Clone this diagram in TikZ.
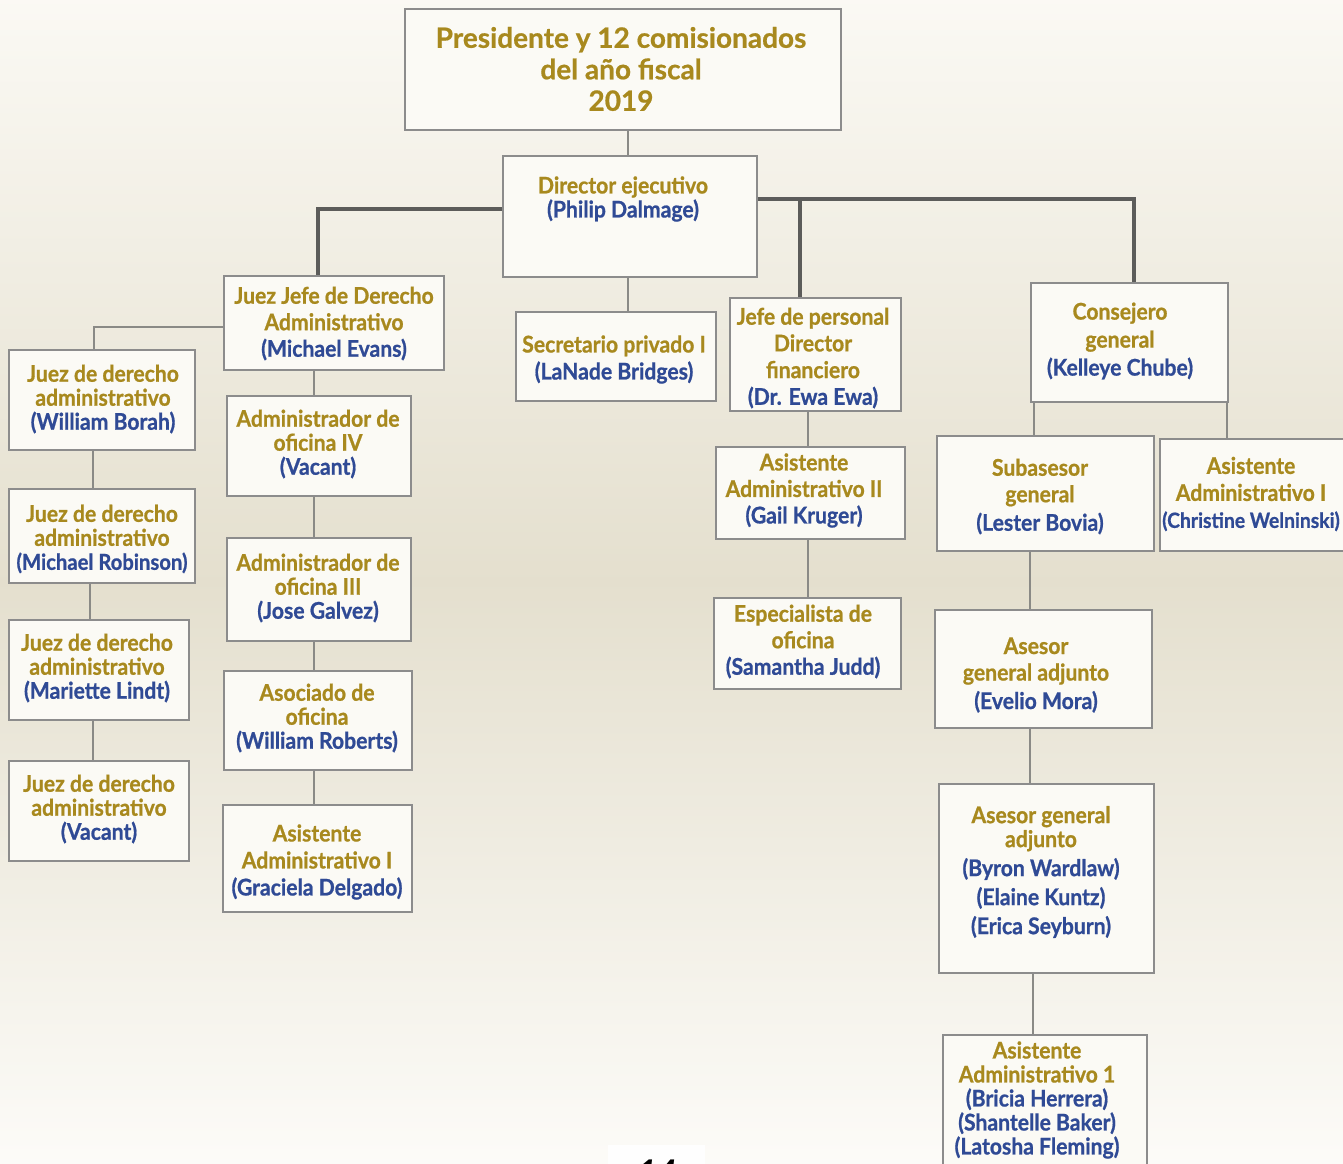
\documentclass[tikz,border=0pt]{standalone}
\usepackage{fontspec}
\newfontfamily\boxfont{Lato}[FakeStretch=0.92,BoldFeatures={FakeBold=0.8}]
\newfontfamily\titlefont{Lato}[BoldFeatures={FakeBold=0.6}]
\definecolor{gold}{HTML}{A8891E}
\definecolor{blu}{HTML}{2F4A95}
\definecolor{bordergray}{HTML}{8C8C8C}
\definecolor{boxfill}{HTML}{FBFAF5}
\definecolor{thinline}{HTML}{8A8A86}
\definecolor{thickline}{HTML}{5C5C5A}
\newcommand\gd[1]{\textcolor{gold}{#1}}
\newcommand\bl[1]{\textcolor{blu}{#1}}
\newcommand\orgbox[5]{\node[orgb,minimum width={(#4-#2)*1pt},minimum height={(#5-#3)*1pt}] (#1) at ({(#2+#4)/2},{(#3+#5)/2}) {};}
\newcommand\vconn[3]{\draw[conn] ([xshift=#3]#2.north |- #1.south) -- ([xshift=#3]#2.north);}
\tikzset{
  orgb/.style={draw=bordergray,line width=1.8pt,fill=boxfill,inner sep=0pt,rectangle},
  tx/.style={align=center,inner sep=0pt,font=\boxfont\bfseries\fontsize{23}{#1}\selectfont},
  conn/.style={draw=thinline,line width=1.5pt},
  thickconn/.style={draw=thickline,line width=3.2pt},
}
\begin{document}
\begin{tikzpicture}[x=1pt,y=-1pt]
\useasboundingbox (0,0) rectangle (1343,1163);
\begin{scope}
\clip (0,0) rectangle (1343,1163);
\shade[top color=white!50!gold!10, bottom color=white!60!gold!8, middle color=gray!12!white!84!gold] (0,0) rectangle (1343,1163);

% boxes
\orgbox{pres}{405}{9}{841}{130}
\orgbox{dir}{503}{156}{757}{277}
\orgbox{jj}{224}{276}{444}{370}
\orgbox{sec}{516}{312}{716}{401}
\orgbox{jefe}{730}{298}{901}{411}
\orgbox{cons}{1031}{283}{1228}{402}
\orgbox{jb}{9}{350}{195}{450}
\orgbox{jr}{9}{489}{195}{583}
\orgbox{jl}{9}{620}{189}{720}
\orgbox{jv}{9}{761}{189}{861}
\orgbox{ad4}{227}{396}{411}{496}
\orgbox{ad3}{227}{538}{411}{641}
\orgbox{aso}{224}{671}{412}{770}
\orgbox{asg}{223}{805}{412}{912}
\orgbox{gail}{716}{447}{905}{539}
\orgbox{esp}{714}{598}{901}{689}
\orgbox{sub}{937}{436}{1154}{551}
\orgbox{chr}{1160}{439}{1352}{551}
\orgbox{eve}{935}{610}{1152}{728}
\orgbox{byr}{939}{784}{1154}{973}
\orgbox{as1}{943}{1035}{1147}{1180}

% connectors
\draw[conn] ([xshift=-2pt]dir.north |- pres.south) -- ([xshift=-2pt]dir.north);
\draw[conn] ([xshift=12pt]sec.north |- dir.south) -- ([xshift=12pt]sec.north);
\draw[thickconn] ([yshift=7.5pt]dir.west) -| ([xshift=-16pt]jj.north);
\draw[thickconn] ([yshift=17.5pt]dir.east) -| ([xshift=4.5pt]cons.north);
\draw[thickconn] ([xshift=-15.5pt]jefe.north) |- ([yshift=17.5pt]dir.east);
\draw[conn] ([yshift=-4pt]jj.west) -| ([xshift=-8pt]jb.north);
\vconn{jb}{jr}{-9pt}
\vconn{jr}{jl}{-9pt}
\vconn{jl}{jv}{-6pt}
\vconn{jj}{ad4}{-5pt}
\vconn{ad4}{ad3}{-5pt}
\vconn{ad3}{aso}{-4pt}
\vconn{aso}{asg}{-3.5pt}
\vconn{jefe}{gail}{-2.5pt}
\vconn{gail}{esp}{0.5pt}
\draw[conn] ([xshift=-95.5pt]cons.south) -- ([xshift=-95.5pt]cons.south |- sub.north);
\draw[conn] ([xshift=97.5pt]cons.south) -- ([xshift=97.5pt]cons.south |- chr.north);
\vconn{sub}{eve}{-13.5pt}
\vconn{eve}{byr}{-16.5pt}
\vconn{byr}{as1}{-12pt}

% texts
\node[align=center,inner sep=0pt,font=\titlefont\bfseries\fontsize{28}{31.5}\selectfont] (tpres) at (621,69) {\gd{Presidente y 12 comisionados}\\\gd{del año fiscal}\\\gd{2019}};
\node[tx=24] (tdir) at (623,199) {\gd{Director ejecutivo}\\\bl{(Philip Dalmage)}};
\node[tx=26.5] (tjj) at (334,323.5) {\gd{Juez Jefe de Derecho}\\\gd{Administrativo}\\\bl{(Michael Evans)}};
\node[tx=27] (tsec) at (614,359.5) {\gd{Secretario privado I}\\\bl{(LaNade Bridges)}};
\node[tx=26.7] (tjefe) at (813,358) {\gd{Jefe de personal}\\\gd{Director}\\\gd{financiero}\\\bl{(Dr. Ewa Ewa)}};
\node[tx=28] (tcons) at (1120,341) {\gd{Consejero}\\\gd{general}\\\bl{(Kelleye Chube)}};
\node[tx=24] (tjb) at (103,399) {\gd{Juez de derecho}\\\gd{administrativo}\\\bl{(William Borah)}};
\node[tx=24] (tjr) at (102,539) {\gd{Juez de derecho}\\\gd{administrativo}\\\bl{\fontsize{22}{24}\selectfont(Michael Robinson)}};
\node[tx=24] (tjl) at (97,668) {\gd{Juez de derecho}\\\gd{administrativo}\\\bl{(Mariette Lindt)}};
\node[tx=24] (tjv) at (99,809) {\gd{Juez de derecho}\\\gd{administrativo}\\\bl{(Vacant)}};
\node[tx=24] (tad4) at (318,444) {\gd{Administrador de}\\\gd{oficina IV}\\\bl{(Vacant)}};
\node[tx=24] (tad3) at (318,588) {\gd{Administrador de}\\\gd{oficina III}\\\bl{(Jose Galvez)}};
\node[tx=24] (taso) at (317,718) {\gd{Asociado de}\\\gd{oficina}\\\bl{(William Roberts)}};
\node[tx=27] (tasg) at (317,862) {\gd{Asistente}\\\gd{Administrativo I}\\\bl{(Graciela Delgado)}};
\node[tx=26.5] (tgail) at (804,490.5) {\gd{Asistente}\\\gd{Administrativo II}\\\bl{(Gail Kruger)}};
\node[tx=26.5] (tesp) at (803,641.5) {\gd{Especialista de}\\\gd{oficina}\\\bl{(Samantha Judd)}};
\node[tx=26.5] (tsub) at (1040,496.5) {\gd{Subasesor}\\\gd{general}\\[2pt]\bl{(Lester Bovia)}};
\node[tx=27] (tchr) at (1251,494) {\gd{Asistente}\\\gd{Administrativo I}\\\bl{\fontsize{21}{27}\selectfont(Christine Welninski)}};
\node[tx=26.5] (teve) at (1036,675) {\gd{Asesor}\\\gd{general adjunto}\\[2pt]\bl{(Evelio Mora)}};
\node[tx=24] (tbyr) at (1041,872) {\gd{Asesor general}\\\gd{adjunto}\\[5pt]\bl{(Byron Wardlaw)}\\[5pt]\bl{(Elaine Kuntz)}\\[5pt]\bl{(Erica Seyburn)}};
\node[tx=24] (tas1) at (1037,1100) {\gd{Asistente}\\\gd{Administrativo 1}\\\bl{(Bricia Herrera)}\\\bl{(Shantelle Baker)}\\\bl{(Latosha Fleming)}};

% page number
\fill[white!90!gold!5] (608,1145) rectangle (705,1170);
\node[inner sep=0pt,font=\titlefont\bfseries\itshape\fontsize{34}{34}\selectfont] (pnum) at (657,1172) {14};
\end{scope}
\end{tikzpicture}
\end{document}
